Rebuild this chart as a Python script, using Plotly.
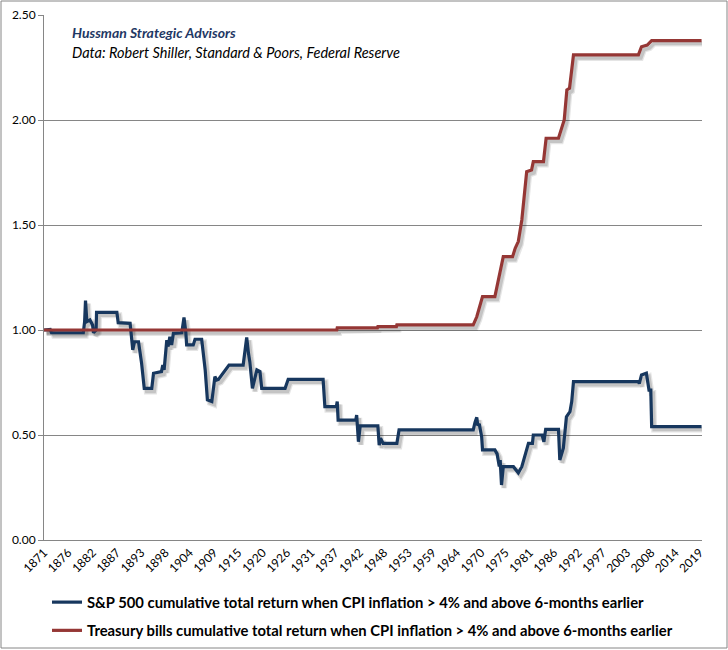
import plotly.graph_objects as go

# ---- data ----
spx_years = [1871.0, 1872.4, 1872.7, 1879.9, 1880.2, 1880.4, 1880.7, 1881.4, 1882.0, 1882.2, 1882.8, 1882.9,
             1887.5, 1887.8, 1890.5, 1890.9, 1891.1, 1891.5, 1892.4, 1893.1, 1893.7, 1895.4, 1895.8, 1897.6,
             1897.9, 1898.2, 1898.8, 1899.1, 1899.5, 1899.9, 1900.3, 1902.2, 1902.7, 1903.1, 1903.3, 1904.8,
             1905.2, 1906.7, 1907.5, 1908.0, 1909.0, 1909.7, 1910.1, 1910.5, 1912.9, 1916.1, 1916.9, 1917.3,
             1917.6, 1918.2, 1918.8, 1919.2, 1919.9, 1920.3, 1925.6, 1926.3, 1934.2, 1934.6, 1937.2, 1937.4,
             1937.6, 1941.6, 1941.8, 1942.2, 1942.6, 1946.6, 1946.9, 1947.2, 1947.8, 1950.9, 1951.4, 1968.2,
             1968.6, 1969.0, 1969.2, 1969.6, 1970.1, 1970.3, 1973.1, 1973.6, 1974.1, 1974.3, 1974.6, 1975.0,
             1977.3, 1978.4, 1979.2, 1979.9, 1980.7, 1981.6, 1981.8, 1983.8, 1984.2, 1984.6, 1987.5, 1987.8,
             1988.6, 1989.3, 1990.1, 1990.5, 1990.9, 2005.6, 2005.8, 2006.3, 2007.4, 2008.0, 2008.4, 2008.6,
             2019.9]
spx_values = [1.00, 1.003, 0.987, 0.987, 1.04, 1.14, 1.04, 1.048, 1.024, 0.987, 1.0, 1.084,
              1.084, 1.035, 1.032, 0.944, 0.905, 0.944, 0.944, 0.841, 0.722, 0.722, 0.794, 0.802,
              0.833, 0.81, 0.952, 0.921, 0.968, 0.929, 0.984, 0.987, 1.06, 0.992, 0.929, 0.929,
              0.956, 0.956, 0.81, 0.667, 0.659, 0.778, 0.762, 0.765, 0.833, 0.833, 0.965, 0.889,
              0.849, 0.722, 0.778, 0.81, 0.802, 0.722, 0.722, 0.765, 0.765, 0.635, 0.635, 0.659,
              0.571, 0.571, 0.595, 0.468, 0.543, 0.543, 0.452, 0.484, 0.46, 0.46, 0.524, 0.524,
              0.56, 0.584, 0.55, 0.548, 0.492, 0.429, 0.429, 0.41, 0.35, 0.38, 0.262, 0.349,
              0.349, 0.32, 0.349, 0.397, 0.46, 0.46, 0.5, 0.5, 0.468, 0.527, 0.527, 0.381,
              0.437, 0.587, 0.611, 0.659, 0.754, 0.754, 0.745, 0.786, 0.794, 0.714, 0.714, 0.54,
              0.54]

tbill_years = [1871.0, 1937.3, 1937.4, 1946.5, 1946.6, 1950.8, 1950.9, 1968.2, 1969.0, 1970.3, 1973.1,
               1975.0, 1977.1, 1977.7, 1978.4, 1979.2, 1980.3, 1981.4, 1981.8, 1984.1, 1984.7, 1987.5,
               1988.8, 1989.4, 1990.0, 1990.3, 1990.9, 2005.6, 2006.3, 2007.6, 2008.6, 2019.9]
tbill_values = [1.00, 1.00, 1.01, 1.01, 1.016, 1.016, 1.024, 1.024, 1.063, 1.159, 1.159,
                1.349, 1.349, 1.389, 1.421, 1.524, 1.754, 1.762, 1.802, 1.802, 1.913, 1.913,
                2.0, 2.143, 2.151, 2.206, 2.31, 2.31, 2.349, 2.357, 2.378, 2.378]

tick_labels = ["1871", "1876", "1882", "1887", "1893", "1898", "1904", "1909", "1915", "1920",
               "1926", "1931", "1937", "1942", "1948", "1953", "1959", "1964", "1970", "1975",
               "1981", "1986", "1992", "1997", "2003", "2008", "2014", "2019"]
tick_positions = [1871 + 5.5 * i for i in range(len(tick_labels))]

spx_name = "S&P 500 cumulative total return when CPI inflation > 4% and above 6-months earlier"
tbill_name = "Treasury bills cumulative total return when CPI inflation > 4% and above 6-months earlier"

BLUE = "#17375E"
RED = "#953735"
GRID = "#868686"
FONT = "Lato, 'Open Sans', sans-serif"

L, R, T, B = 44, 26, 15, 110
W, H = 728, 650
pw, ph = W - L - R, H - T - B

X_RANGE = [1871.0, 2020.0]
Y_RANGE = [0.0, 2.5]
# soft drop shadow: same data drawn on a hidden axis pair offset by a few pixels
sdx, sdy = 2.5, 3.0
kx = (X_RANGE[1] - X_RANGE[0]) / pw
ky = (Y_RANGE[1] - Y_RANGE[0]) / ph
shadow_x_range = [X_RANGE[0] - sdx * kx, X_RANGE[1] - sdx * kx]
shadow_y_range = [Y_RANGE[0] + sdy * ky, Y_RANGE[1] + sdy * ky]

fig = go.Figure()
for xs, ys in ((spx_years, spx_values), (tbill_years, tbill_values)):
    fig.add_trace(go.Scatter(x=xs, y=ys, mode="lines", showlegend=False, hoverinfo="skip",
                             line=dict(color="rgba(0,0,0,0.10)", width=6), xaxis="x", yaxis="y"))
    fig.add_trace(go.Scatter(x=xs, y=ys, mode="lines", showlegend=False, hoverinfo="skip",
                             line=dict(color="rgba(0,0,0,0.14)", width=3.5), xaxis="x", yaxis="y"))

fig.add_trace(go.Scatter(x=spx_years, y=spx_values, mode="lines", name=spx_name, legendgroup="a",
                         line=dict(color=BLUE, width=3.2), xaxis="x2", yaxis="y2"))
fig.add_trace(go.Scatter(x=tbill_years, y=tbill_values, mode="lines", name=tbill_name, legendgroup="b",
                         line=dict(color=RED, width=3.2), xaxis="x2", yaxis="y2"))

fig.update_layout(
    width=W, height=H,
    margin=dict(l=L, r=R, t=T, b=B, pad=0, autoexpand=False),
    paper_bgcolor="white", plot_bgcolor="white",
    font=dict(family=FONT, size=12, color="#000000"),
    showlegend=True,
    legend=dict(orientation="v", x=(47 - L) / pw, y=(540 - 586) / ph, xanchor="left", yanchor="top",
                font=dict(family=FONT, size=14.8, color="#000000", weight="bold"),
                bgcolor="rgba(0,0,0,0)", traceorder="grouped", tracegroupgap=6, itemwidth=30),
    xaxis=dict(range=shadow_x_range, visible=False, fixedrange=True),
    yaxis=dict(range=shadow_y_range, visible=False, fixedrange=True),
    xaxis2=dict(range=X_RANGE, overlaying="x", anchor="y2", side="bottom",
                tickmode="array", tickvals=tick_positions, ticktext=tick_labels,
                tickangle=-45, showgrid=False, zeroline=False, showline=True, linecolor=GRID,
                linewidth=1, ticks="", automargin=False, tickfont=dict(size=12, family=FONT)),
    yaxis2=dict(range=Y_RANGE, overlaying="y", anchor="x2", side="left",
                tickvals=[0, 0.5, 1.0, 1.5, 2.0, 2.5], tickformat=".2f",
                showgrid=True, gridcolor=GRID, gridwidth=1, zeroline=False, showline=True,
                linecolor=GRID, linewidth=1, ticks="outside", ticklen=5, tickcolor=GRID,
                automargin=False, tickfont=dict(size=12, family=FONT)),
)

fig.add_annotation(xref="paper", yref="paper", x=(70 - L) / pw, y=(540 - 33) / ph,
                   xanchor="left", yanchor="middle", showarrow=False,
                   text="<b><i>Hussman Strategic Advisors</i></b>",
                   font=dict(family=FONT, size=14, color="#1F3864"))
fig.add_annotation(xref="paper", yref="paper", x=(70 - L) / pw, y=(540 - 52) / ph,
                   xanchor="left", yanchor="middle", showarrow=False,
                   text="<i>Data: Robert Shiller, Standard & Poors, Federal Reserve</i>",
                   font=dict(family=FONT, size=14.5, color="#000000"))

# outer chart border
fig.add_shape(type="rect", xref="paper", yref="paper",
              x0=(1 - L) / pw, x1=(727 - L) / pw, y0=(540 - 648) / ph, y1=(540 - 1) / ph,
              line=dict(color=GRID, width=1), fillcolor="rgba(0,0,0,0)", layer="below")

fig.write_html("out.html", config={"displayModeBar": False},
               post_script="document.body.style.margin='0';document.body.style.overflow='hidden';")
